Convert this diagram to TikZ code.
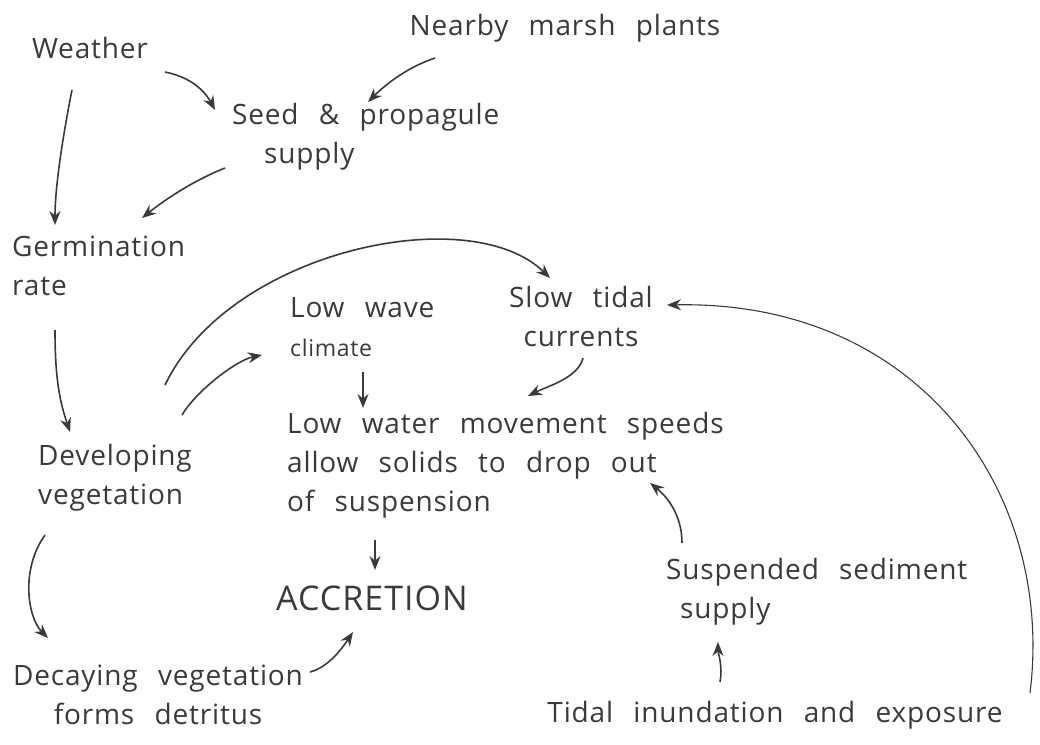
\documentclass[tikz,border=0pt]{standalone}
\usepackage{fontspec}
\setmainfont{Open Sans}[LetterSpace=3,WordSpace=2.5]
\usetikzlibrary{arrows.meta}
\definecolor{ink}{HTML}{3A3A3A}
\begin{document}
\begin{tikzpicture}[x=1pt,y=-1pt,
 txt/.style={inner sep=0pt,font=\fontsize{28}{39}\selectfont,text=ink},
 conn/.style={draw=ink,line width=1.6pt,-{Stealth[length=14pt,width=11pt]}},
]
\useasboundingbox (0,0) rectangle (1040,744);
\node[txt] (weather) at (90,48) {Weather};
\node[txt] (marsh) at (565,28) {Nearby marsh plants};
\node[txt,align=left,anchor=north west] (seed) at (232,103) {Seed \& propagule\\\hspace*{32pt}supply};
\node[txt,align=left,anchor=west] (germ) at (12,266) {Germination\\rate};
\node[txt,align=left,anchor=west] (dev) at (38,478) {Developing\\vegetation};
\node[txt,align=left,anchor=west] (lowwave) at (290,327) {Low wave\\{\fontsize{23}{26}\selectfont climate}};
\node[txt,align=center] (slow) at (581,316) {Slow tidal\\currents};
\node[txt,align=left,anchor=west] (lowwater) at (287,465) {Low water movement speeds\\allow solids to drop out\\of suspension};
\node[txt,font=\fontsize{34}{40}\selectfont] (accr) at (372,598) {ACCRETION};
\node[txt,align=left,anchor=west] (susp) at (666,592) {Suspended sediment\\\hspace*{14pt}supply};
\node[txt,align=center] (decay) at (158,695) {Decaying vegetation\\forms detritus};
\node[txt] (tidal) at (775,715) {Tidal inundation and exposure};

\draw[conn] ([shift={(75,24)}]weather.center) .. controls +(30,6) and +(-8,-15) .. ([shift={(-17,7)}]seed.north west);
\draw[conn] ([shift={(-130,30)}]marsh.center) .. controls +(-30,10) and +(15,-15) .. ([shift={(136,-1)}]seed.north west);
\draw[conn] ([shift={(-18,42)}]weather.center) .. controls +(-8,40) and +(0,-40) .. ([shift={(43,-41)}]germ.west);
\draw[conn] ([shift={(-7,65)}]seed.north west) .. controls +(-30,12) and +(25,-20) .. ([shift={(130,-48)}]germ.west);
\draw[conn] ([shift={(43,64)}]germ.west) .. controls +(0,50) and +(-10,-30) .. ([shift={(32,-46)}]dev.west);
\draw[conn] ([shift={(127,-93)}]dev.west) .. controls +(65,-135) and +(-80,-78) .. ([shift={(-31,-38)}]slow.center);
\draw[conn] ([shift={(144,-63)}]dev.west) .. controls +(15,-25) and +(-25,5) .. ([shift={(-28,28)}]lowwave.west);
\draw[conn] ([shift={(73,45)}]lowwave.west) -- ([shift={(76,-57)}]lowwater.west);
\draw[conn] ([shift={(2,42)}]slow.center) .. controls +(-5,20) and +(20,-10) .. ([shift={(241,-69)}]lowwater.west);
\draw[conn] ([shift={(7,57)}]dev.west) .. controls +(-25,35) and +(-20,-20) .. ([shift={(-110,-57)}]decay.center);
\draw[conn] ([shift={(88,75)}]lowwater.west) -- ([shift={(3,-28)}]accr.center);
\draw[conn] ([shift={(152,-23)}]decay.center) .. controls +(20,-5) and +(-8,12) .. ([shift={(-19,34)}]accr.center);
\draw[conn] ([shift={(16,-49)}]susp.west) .. controls +(0,-30) and +(15,12) .. ([shift={(363,18)}]lowwater.west);
\draw[conn] ([shift={(-55,-33)}]tidal.center) .. controls +(3,-15) and +(0,10) .. ([shift={(52,50)}]susp.west);
\draw[conn,line width=1.1pt] ([shift={(255,-22)}]tidal.center) .. controls +(25,-200) and +(253,-5) .. ([shift={(86,-11)}]slow.center);
\end{tikzpicture}
\end{document}
